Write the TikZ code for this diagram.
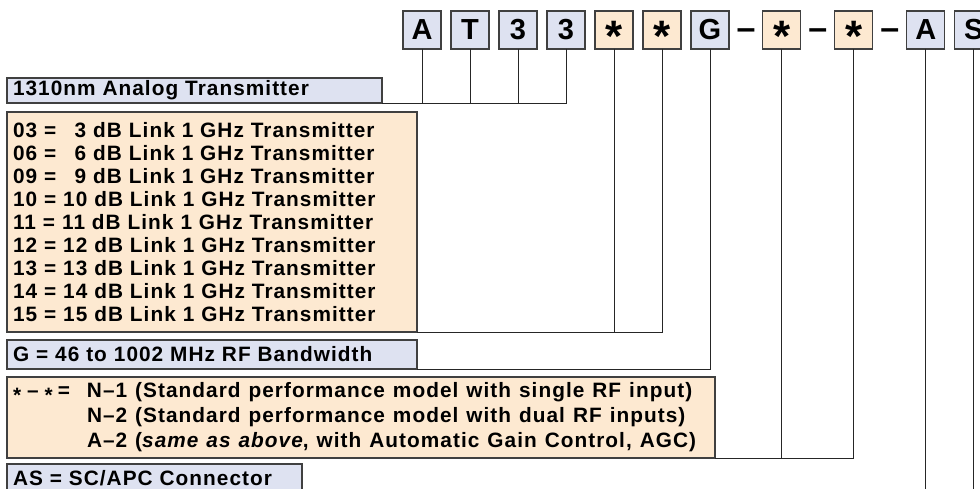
\documentclass[tikz,border=0pt]{standalone}
\usepackage{fontspec}
\setmainfont{Liberation Sans}[LetterSpace=5]
\usetikzlibrary{positioning}
\definecolor{codeblue}{RGB}{222,226,241}
\definecolor{codetan}{RGB}{253,233,209}
\tikzset{
  box/.style={rectangle, draw=black!75, line width=1.1pt, inner sep=0pt, outer sep=0pt},
  key/.style={box, fill=codeblue, minimum width=38pt, minimum height=38pt, text height=20pt, text depth=0pt, font=\fontsize{29}{29}\selectfont\bfseries},
  wild/.style={key, fill=codetan},
  sep/.style={inner sep=0pt, outer sep=0pt, minimum width=18pt, text height=20pt, text depth=0pt, font=\fontsize{34}{34}\selectfont\bfseries},
  desc/.style={box, anchor=north west, align=left, inner xsep=6pt, font=\fontsize{20.8}{23}\selectfont\bfseries},
  bluedesc/.style={desc, fill=codeblue},
  tandesc/.style={desc, fill=codetan},
  link/.style={draw=black!85, line width=0.9pt}
}
\newcommand{\bigstar}{\raisebox{-12pt}{\fontsize{44}{44}\selectfont *}}
\newcommand{\smallstar}{\raisebox{-0.22em}{*}}

\begin{document}
\begin{tikzpicture}[x=1pt, y=-1pt, node distance=10pt]
\useasboundingbox (0,0) rectangle (980,489);
% part number boxes
\node[key, anchor=north west] (lA) at (403,11) {A};
\node[key, right=of lA] (lT) {T};
\node[key, right=of lT] (l3a) {3};
\node[key, right=of l3a] (l3b) {3};
\node[wild, right=of l3b] (w1) {\bigstar};
\node[wild, right=of w1] (w2) {\bigstar};
\node[key, right=of w2] (lG) {G};
\node[sep, right=7.5pt of lG] (h1) {--};
\node[wild, right=7.5pt of h1] (w3) {\bigstar};
\node[sep, right=7.5pt of w3] (h2) {--};
\node[wild, right=7.5pt of h2] (w4) {\bigstar};
\node[sep, right=7.5pt of w4] (h3) {--};
\node[key, right=7.5pt of h3] (lA2) {A};
\node[key, right=of lA2] (lS) {S};

% descriptions
\node[bluedesc, text width=363pt, minimum height=25pt] (family) at (7,78) {1310nm Analog Transmitter};
\node[tandesc, text width=398pt, minimum height=220pt] (link) at (7,112) {03 = \phantom{1}3 dB Link 1 GHz Transmitter\\
06 = \phantom{1}6 dB Link 1 GHz Transmitter\\
09 = \phantom{1}9 dB Link 1 GHz Transmitter\\
10 = 10 dB Link 1 GHz Transmitter\\
11 = 11 dB Link 1 GHz Transmitter\\
12 = 12 dB Link 1 GHz Transmitter\\
13 = 13 dB Link 1 GHz Transmitter\\
14 = 14 dB Link 1 GHz Transmitter\\
15 = 15 dB Link 1 GHz Transmitter};
\node[bluedesc, text width=398pt, minimum height=29pt] (band) at (7,340) {G = 46 to 1002 MHz RF Bandwidth};
\node[tandesc, text width=696pt, minimum height=81pt, font=\fontsize{20.8}{25}\selectfont\bfseries] (model) at (7,377) {\spaceskip=8pt\relax
\makebox[74pt][l]{\smallstar\hspace{6pt}--\hspace{6pt}\smallstar\hspace{5pt}=}N--1 (Standard performance model with single RF input)\\
\hspace*{74pt}N--2 (Standard performance model with dual RF inputs)\\
\hspace*{74pt}A--2 (\textit{same as above}, with Automatic Gain Control, AGC)};
\node[bluedesc, text width=283pt, minimum height=29pt] (conn) at (7,464) {AS = SC/APC Connector};

\draw[link] (lA.south) |- (family.south east); \draw[link] (lT.south) |- (family.south east);
\draw[link] (l3a.south) |- (family.south east); \draw[link] (l3b.south) |- (family.south east);
\draw[link] (w1.south) |- (link.south east); \draw[link] (w2.south) |- (link.south east);
\draw[link] (lG.south) |- (band.south east);
\draw[link] (w3.south) |- (model.south east); \draw[link] (w4.south) |- (model.south east);
\draw[link] (lA2.south) |- (conn.south east); \draw[link] (lS.south) |- (conn.south east);
\end{tikzpicture}
\end{document}
